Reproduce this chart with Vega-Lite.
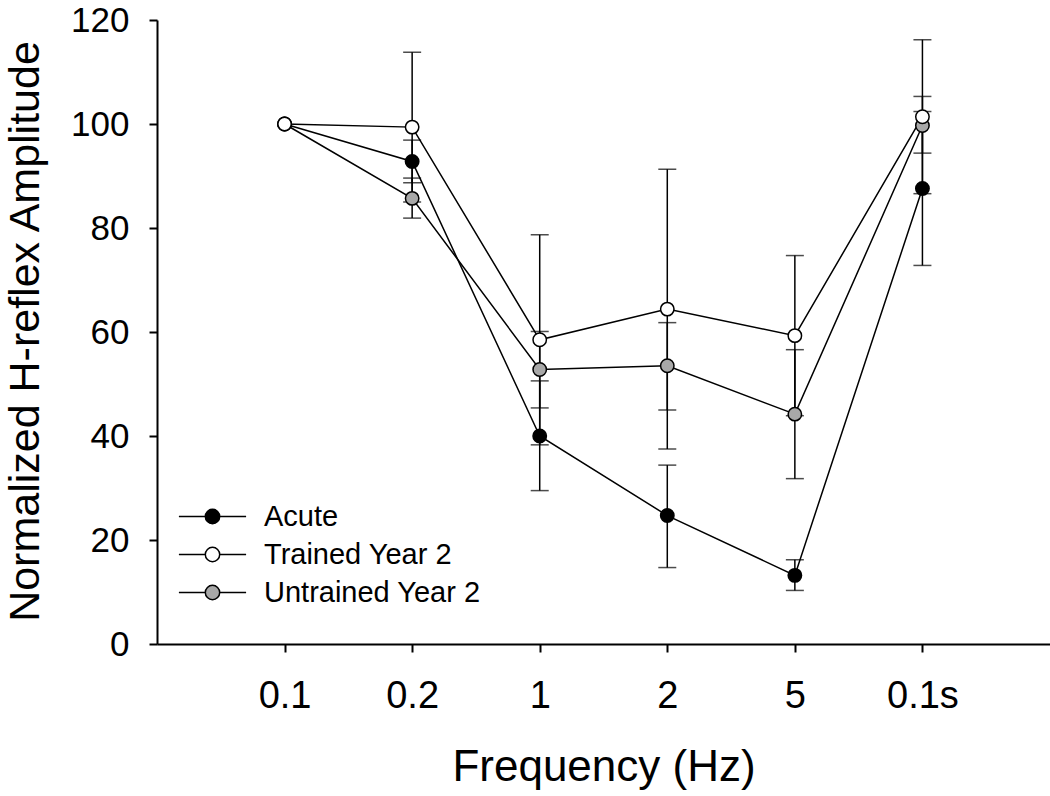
{
  "$schema": "https://vega.github.io/schema/vega-lite/v6.json",
  "width": 893,
  "height": 624,
  "autosize": {"type": "none"},
  "padding": {"left": 157, "top": 20, "right": 0, "bottom": 152},
  "background": "white",
  "config": {
    "font": "Liberation Sans",
    "view": {"stroke": null},
    "axis": {
      "grid": false,
      "domainColor": "black",
      "domainWidth": 2,
      "tickColor": "black",
      "tickWidth": 2,
      "tickSize": 8,
      "labelColor": "black",
      "titleColor": "black",
      "labelFont": "Liberation Sans",
      "titleFont": "Liberation Sans",
      "titleFontWeight": "normal"
    },
    "legend": {
      "orient": "none",
      "legendX": 41,
      "legendY": 482,
      "padding": 0,
      "labelFont": "Liberation Sans",
      "labelFontSize": 29,
      "labelColor": "black",
      "labelOffset": 37,
      "labelLimit": 0,
      "rowPadding": 8,
      "symbolSize": 256,
      "symbolStrokeColor": "black",
      "symbolStrokeWidth": 1.5,
      "symbolType": "M-4.2,0L-0.9,0M0.9,0L4.2,0M-0.9,0A0.9,0.9,0,1,1,0.9,0A0.9,0.9,0,1,1,-0.9,0Z"
    }
  },
  "data": {
    "values": [
      {"freq": "0.1", "group": "Untrained Year 2", "mean": 100, "lo": null, "hi": null},
      {"freq": "0.2", "group": "Untrained Year 2", "mean": 85.7, "lo": 81.9, "hi": 89.6},
      {"freq": "1", "group": "Untrained Year 2", "mean": 52.8, "lo": 45.4, "hi": 60.1},
      {"freq": "2", "group": "Untrained Year 2", "mean": 53.5, "lo": 45.0, "hi": 61.8},
      {"freq": "5", "group": "Untrained Year 2", "mean": 44.2, "lo": 31.8, "hi": 56.6},
      {"freq": "0.1s", "group": "Untrained Year 2", "mean": 99.7, "lo": 94.4, "hi": 105.3},
      {"freq": "0.1", "group": "Acute", "mean": 100, "lo": null, "hi": null},
      {"freq": "0.2", "group": "Acute", "mean": 92.8, "lo": 88.7, "hi": 96.9},
      {"freq": "1", "group": "Acute", "mean": 40.0, "lo": 29.5, "hi": 50.6},
      {"freq": "2", "group": "Acute", "mean": 24.7, "lo": 14.7, "hi": 34.4},
      {"freq": "5", "group": "Acute", "mean": 13.2, "lo": 10.3, "hi": 16.2},
      {"freq": "0.1s", "group": "Acute", "mean": 87.6, "lo": 72.8, "hi": 102.4},
      {"freq": "0.1", "group": "Trained Year 2", "mean": 100, "lo": null, "hi": null},
      {"freq": "0.2", "group": "Trained Year 2", "mean": 99.4, "lo": 85.0, "hi": 113.8},
      {"freq": "1", "group": "Trained Year 2", "mean": 58.5, "lo": 38.3, "hi": 78.7},
      {"freq": "2", "group": "Trained Year 2", "mean": 64.4, "lo": 37.5, "hi": 91.3},
      {"freq": "5", "group": "Trained Year 2", "mean": 59.3, "lo": 43.9, "hi": 74.7},
      {"freq": "0.1s", "group": "Trained Year 2", "mean": 101.4, "lo": 86.6, "hi": 116.2}
    ]
  },
  "encoding": {
    "x": {
      "field": "freq",
      "type": "ordinal",
      "sort": ["0.1", "0.2", "1", "2", "5", "0.1s"],
      "scale": {"type": "point", "padding": 1},
      "axis": {
        "title": "Frequency (Hz)",
        "labelAngle": 0,
        "labelFontSize": 38,
        "labelPadding": 25,
        "titleFontSize": 44,
        "titleBaseline": "alphabetic",
        "titleY": 136
      }
    }
  },
  "layer": [
    {
      "mark": {"type": "line", "color": "black", "strokeWidth": 1.5},
      "encoding": {
        "y": {
          "field": "mean",
          "type": "quantitative",
          "title": "Normalized H-reflex Amplitude",
          "scale": {"domain": [0, 120], "nice": false},
          "axis": {
            "values": [0, 20, 40, 60, 80, 100, 120],
            "labelFontSize": 35,
            "labelPadding": 20,
            "titleFontSize": 43,
            "titleAngle": -90,
            "titleBaseline": "alphabetic",
            "titleX": -119,
            "titleY": 311
          }
        },
        "detail": {"field": "group"}
      }
    },
    {
      "transform": [{"filter": "datum.lo != null"}],
      "mark": {"type": "rule", "color": "black", "strokeWidth": 1.5},
      "encoding": {
        "y": {"field": "lo", "type": "quantitative", "title": "Normalized H-reflex Amplitude"},
        "y2": {"field": "hi"}
      }
    },
    {
      "transform": [{"filter": "datum.lo != null"}],
      "mark": {"type": "tick", "color": "black", "size": 18, "thickness": 1.5, "orient": "horizontal"},
      "encoding": {
        "y": {"field": "lo", "type": "quantitative", "title": "Normalized H-reflex Amplitude"}
      }
    },
    {
      "transform": [{"filter": "datum.hi != null"}],
      "mark": {"type": "tick", "color": "black", "size": 18, "thickness": 1.5, "orient": "horizontal"},
      "encoding": {
        "y": {"field": "hi", "type": "quantitative", "title": "Normalized H-reflex Amplitude"}
      }
    },
    {
      "mark": {"type": "point", "shape": "circle", "size": 180, "filled": true, "stroke": "black", "strokeWidth": 1.5, "opacity": 1},
      "encoding": {
        "y": {"field": "mean", "type": "quantitative", "title": "Normalized H-reflex Amplitude"},
        "fill": {
          "field": "group",
          "type": "nominal",
          "scale": {"domain": ["Acute", "Trained Year 2", "Untrained Year 2"], "range": ["black", "white", "#a8a8a8"]},
          "legend": {
            "title": null,
            "encode": {
              "symbols": {
                "update": {
                  "fill": {"signal": "datum.value === 'Acute' ? 'black' : 'white'"},
                  "stroke": {"value": "black"},
                  "size": {"value": 256},
                  "opacity": {"value": 1}
                }
              }
            }
          }
        }
      }
    }
  ]
}
